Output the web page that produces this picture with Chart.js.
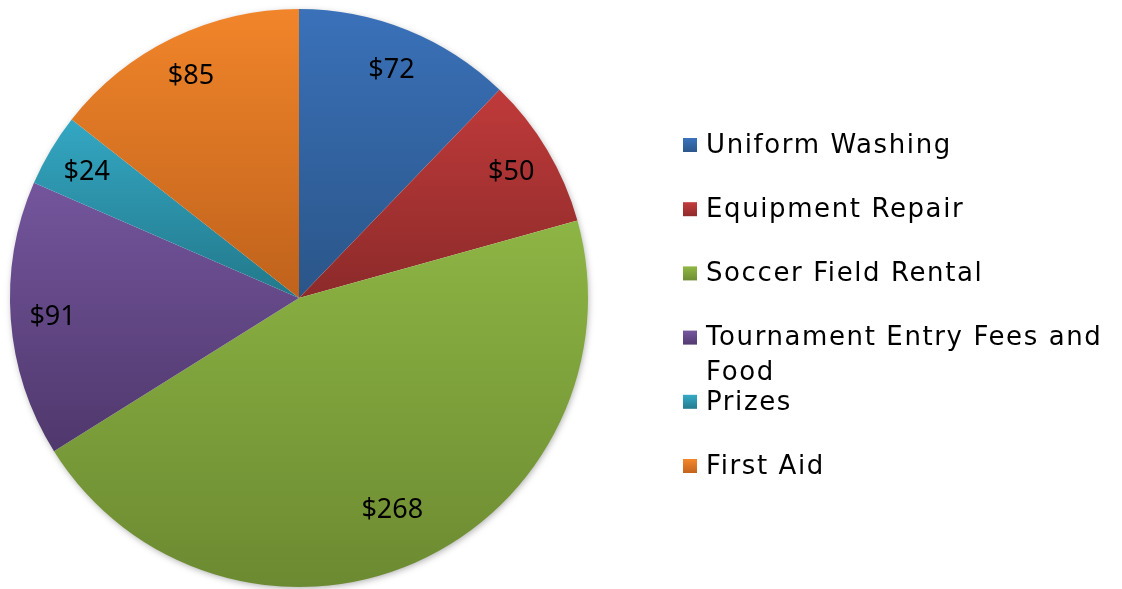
<!DOCTYPE html>
<html>
<head>
<meta charset="utf-8">
<script src="https://cdn.jsdelivr.net/npm/chart.js@4"></script>
<style>
  html, body { margin: 0; padding: 0; background: #fff; }
  canvas { display: block; }
</style>
</head>
<body>
<canvas id="myChart" width="1122" height="589"></canvas>
<script>
const categories = ['Uniform Washing', 'Equipment Repair', 'Soccer Field Rental',
    'Tournament Entry Fees and Food', 'Prizes', 'First Aid'];
const costs = [72, 50, 268, 91, 24, 85];
const valueLabels = ['$72', '$50', '$268', '$91', '$24', '$85'];

// light (top) / dark (bottom) colours of each slice
const topColors = ['#3a71b9', '#c03a3a', '#8db544', '#74559d', '#34a7c3', '#f1852a'];
const bottomColors = ['#2a5588', '#8c2a2a', '#6c8a31', '#4f386c', '#22788a', '#bf621c'];

// vertical gradient over the bounding box of each slice
function sliceBox(arc) {
    const p = arc.getProps(['x', 'y', 'startAngle', 'endAngle', 'outerRadius'], true);
    let top = p.y, bottom = p.y;
    const steps = 40;
    for (let i = 0; i <= steps; i++) {
        const a = p.startAngle + (p.endAngle - p.startAngle) * i / steps;
        const yy = p.y + Math.sin(a) * p.outerRadius;
        top = Math.min(top, yy);
        bottom = Math.max(bottom, yy);
    }
    return { top, bottom, p };
}

const gradientPlugin = {
    id: 'sliceGradient',
    beforeDatasetsDraw(chart) {
        const ctx = chart.ctx;
        const arcs = chart.getDatasetMeta(0).data;
        // soft shadow under the whole pie
        if (arcs.length) {
            const p = arcs[0].getProps(['x', 'y', 'outerRadius'], true);
            ctx.save();
            ctx.shadowColor = 'rgba(0,0,0,0.35)';
            ctx.shadowBlur = 7;
            ctx.shadowOffsetX = 1;
            ctx.shadowOffsetY = 2;
            ctx.fillStyle = '#ffffff';
            ctx.beginPath();
            ctx.arc(p.x, p.y, p.outerRadius - 1, 0, Math.PI * 2);
            ctx.fill();
            ctx.restore();
        }
        arcs.forEach((arc, i) => {
            const b = sliceBox(arc);
            const g = ctx.createLinearGradient(0, b.top, 0, b.bottom);
            g.addColorStop(0, topColors[i]);
            g.addColorStop(1, bottomColors[i]);
            arc.options.backgroundColor = g;
        });
    },
    afterDatasetsDraw(chart) {
        const ctx = chart.ctx;
        const arcs = chart.getDatasetMeta(0).data;
        ctx.save();
        ctx.font = '27px "Noto Sans"';
        ctx.fillStyle = '#000';
        ctx.textAlign = 'center';
        ctx.textBaseline = 'middle';
        arcs.forEach((arc, i) => {
            const p = arc.getProps(['x', 'y', 'startAngle', 'endAngle', 'outerRadius'], true);
            const mid = (p.startAngle + p.endAngle) / 2;
            // big slice label sits a little further in, like the original
            const r = p.outerRadius * (arc.circumference > Math.PI / 2 ? 0.8 : 0.855);
            ctx.fillText(valueLabels[i], p.x + Math.cos(mid) * r, p.y + Math.sin(mid) * r + 1);
        });
        ctx.restore();
    }
};

// legend drawn at the right, wrapping long names
const legendPlugin = {
    id: 'sideLegend',
    afterDraw(chart) {
        const ctx = chart.ctx;
        const boxX = 683, textX = 706, firstY = 146, step = 64.2, maxW = 414;
        ctx.save();
        ctx.font = '26px "DejaVu Sans"';
        ctx.letterSpacing = '1.6px';
        ctx.textBaseline = 'middle';
        categories.forEach((name, i) => {
            const cy = firstY + step * i;
            const g = ctx.createLinearGradient(0, cy - 7, 0, cy + 7);
            g.addColorStop(0, topColors[i]);
            g.addColorStop(1, bottomColors[i]);
            ctx.fillStyle = g;
            ctx.fillRect(boxX, cy - 8, 14, 14);
            ctx.fillStyle = '#000';
            const words = name.split(' ');
            let line = '', ly = cy;
            words.forEach(w => {
                const test = line ? line + ' ' + w : w;
                if (line && ctx.measureText(test).width > maxW) {
                    ctx.fillText(line, textX, ly);
                    line = w;
                    ly += 35;
                } else {
                    line = test;
                }
            });
            ctx.fillText(line, textX, ly);
        });
        ctx.restore();
    }
};

new Chart(document.getElementById('myChart'), {
    type: 'pie',
    data: {
        labels: categories,
        datasets: [{
            data: costs,
            backgroundColor: topColors,
            borderWidth: 0
        }]
    },
    options: {
        responsive: false,
        animation: false,
        layout: { padding: { left: 10, top: 9, right: 534, bottom: 2 } },
        plugins: {
            legend: { display: false },
            tooltip: { enabled: false }
        }
    },
    plugins: [gradientPlugin, legendPlugin]
});
</script>
</body>
</html>
